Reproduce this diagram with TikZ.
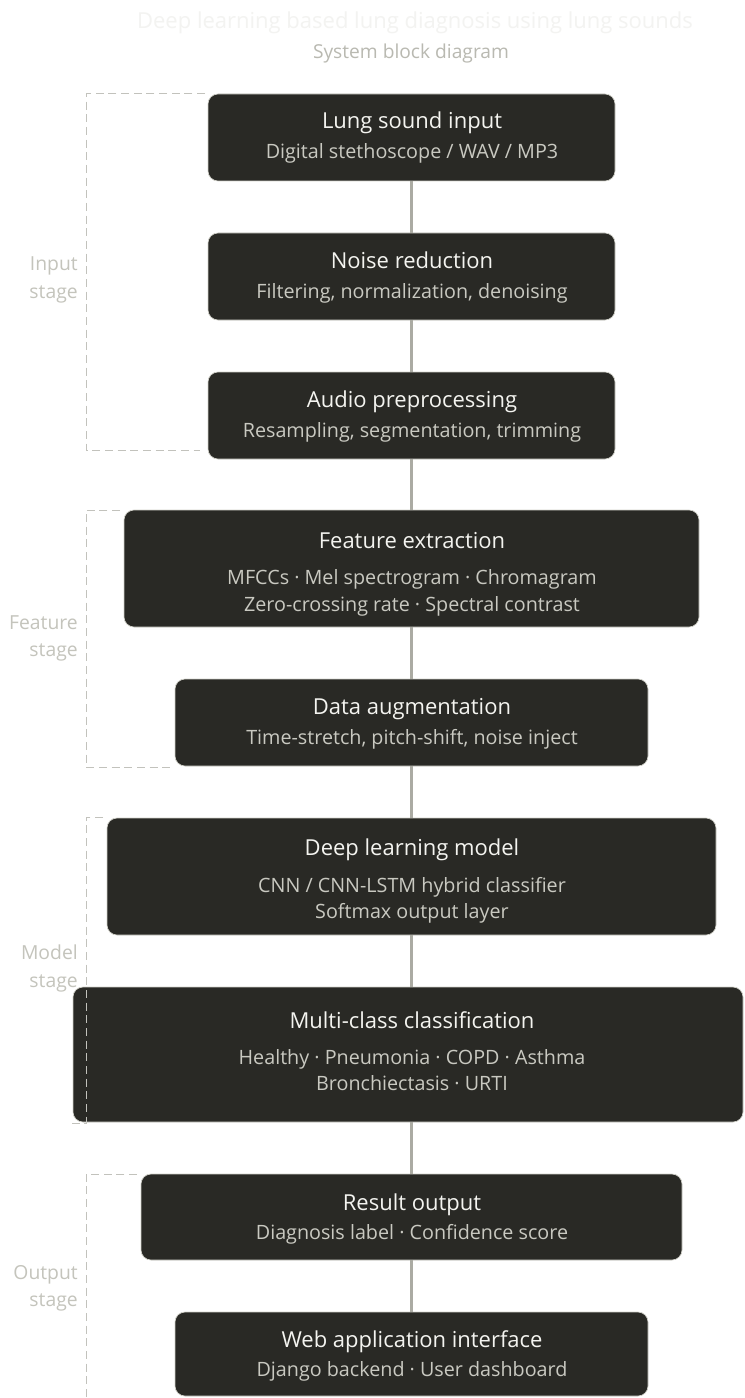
\documentclass[tikz,border=0pt]{standalone}
\usepackage{fontspec}
\setmainfont{Open Sans}
\usetikzlibrary{fit}
\definecolor{boxfill}{HTML}{292925}
\definecolor{boxline}{HTML}{D2D2CA}
\definecolor{ttlcol}{HTML}{F4F4F0}
\definecolor{subcol}{HTML}{C9C9C1}
\definecolor{conncol}{HTML}{ABABA3}
\definecolor{brkcol}{HTML}{C2C2BC}
\definecolor{lblcol}{HTML}{C4C4BC}
\definecolor{headcol}{HTML}{F3F3F1}
\definecolor{subheadcol}{HTML}{B9B9B1}
\tikzset{
  box/.style={draw=boxline, line width=0.5pt, fill=boxfill, rounded corners=7.5pt, inner sep=0pt},
  ttl/.style={text=ttlcol, anchor=base, inner sep=0pt, font=\fontsize{16.5}{19}\selectfont},
  sub/.style={text=subcol, anchor=base, inner sep=0pt, font=\fontsize{14.8}{17}\selectfont},
  conn/.style={draw=conncol, line width=1.6pt},
  brk/.style={draw=brkcol, line width=0.75pt, dash pattern=on 6pt off 3.5pt},
  lbl/.style={text=lblcol, anchor=base east, inner sep=0pt, font=\fontsize{14.5}{17}\selectfont},
}
\begin{document}
\begin{tikzpicture}[x=0.75pt,y=-0.75pt]
\useasboundingbox (0,0) rectangle (744,1398);
\fill[white] (0,0) rectangle (744,1398);

% heading
\node[text=headcol, anchor=base, inner sep=0pt, font=\fontsize{16.5}{20}\selectfont] (head) at (415,29) {Deep learning based lung diagnosis using lung sounds};
\node[text=subheadcol, anchor=base, inner sep=0pt, font=\fontsize{14.4}{17}\selectfont] (subhead) at (411,59) {System block diagram};

% boxes
\node[box, fit={(208,94) (615,181)}] (b1) {};
\node[box, fit={(208,233) (615,320)}] (b2) {};
\node[box, fit={(208,372) (615,459)}] (b3) {};
\node[box, fit={(124,510) (699,627)}] (b4) {};
\node[box, fit={(175,679) (648,766)}] (b5) {};
\node[box, fit={(107,818) (716,935)}] (b6) {};
\node[box, fit={(73,987) (743,1122)}] (b7) {};
\node[box, fit={(141,1174) (682,1260)}] (b8) {};
\node[box, fit={(175,1312) (648,1396)}] (b9) {};

% texts
\node[ttl] (t1) at (412,129) {Lung sound input};
\node[sub] (s1) at (412,159) {Digital stethoscope / WAV / MP3};
\node[ttl] (t2) at (412,268) {Noise reduction};
\node[sub] (s2) at (412,298) {Filtering, normalization, denoising};
\node[ttl] (t3) at (412,407) {Audio preprocessing};
\node[sub] (s3) at (412,437) {Resampling, segmentation, trimming};
\node[ttl] (t4) at (412,548) {Feature extraction};
\node[sub] (s4a) at (412,584) {MFCCs · Mel spectrogram · Chromagram};
\node[sub] (s4b) at (412,611) {Zero-crossing rate · Spectral contrast};
\node[ttl] (t5) at (412,714) {Data augmentation};
\node[sub] (s5) at (412,744) {Time-stretch, pitch-shift, noise inject};
\node[ttl] (t6) at (412,855) {Deep learning model};
\node[sub] (s6a) at (412,892) {CNN / CNN-LSTM hybrid classifier};
\node[sub] (s6b) at (412,918) {Softmax output layer};
\node[ttl] (t7) at (412,1028) {Multi-class classification};
\node[sub] (s7a) at (412,1064) {Healthy · Pneumonia · COPD · Asthma};
\node[sub] (s7b) at (412,1090) {Bronchiectasis · URTI};
\node[ttl] (t8) at (412,1210) {Result output};
\node[sub] (s8) at (412,1239) {Diagnosis label · Confidence score};
\node[ttl] (t9) at (412,1347) {Web application interface};
\node[sub] (s9) at (412,1376) {Django backend · User dashboard};

% connectors
\draw[conn] (b1.south) -- (b2.north);
\draw[conn] (b2.south) -- (b3.north);
\draw[conn] (b3.south) -- (b4.north);
\draw[conn] (b4.south) -- (b5.north);
\draw[conn] (b5.south) -- (b6.north);
\draw[conn] (b6.south) -- (b6.south |- b7.north);
\draw[conn] (b6.south |- b7.south) -- (b8.north);
\draw[conn] (b8.south) -- (b9.north);

% stage brackets
\coordinate (i1) at (205,94); \coordinate (i2) at (86,94); \coordinate (i3) at (86,450); \coordinate (i4) at (200,450);
\draw[brk] (i1) -- (i2) -- (i3) -- (i4);
\coordinate (f1) at (120,510); \coordinate (f2) at (86,510); \coordinate (f3) at (86,767); \coordinate (f4) at (170,767);
\draw[brk] (f1) -- (f2) -- (f3) -- (f4);
\coordinate (m1) at (103,817); \coordinate (m2) at (86,817); \coordinate (m3) at (86,1123); \coordinate (m4) at (70,1123);
\draw[brk] (m1) -- (m2) -- (m3) -- (m4);
\coordinate (o1) at (137,1174); \coordinate (o2) at (86,1174); \coordinate (o3) at (86,1398);
\draw[brk] (o1) -- (o2) -- (o3);

% stage labels
\node[lbl] (li1) at (78,270) {Input};
\node[lbl] (li2) at (78,298) {stage};
\node[lbl] (lf1) at (78,629) {Feature};
\node[lbl] (lf2) at (78,656) {stage};
\node[lbl] (lm1) at (78,959) {Model};
\node[lbl] (lm2) at (78,987) {stage};
\node[lbl] (lo1) at (78,1279) {Output};
\node[lbl] (lo2) at (78,1306) {stage};
\end{tikzpicture}
\end{document}
